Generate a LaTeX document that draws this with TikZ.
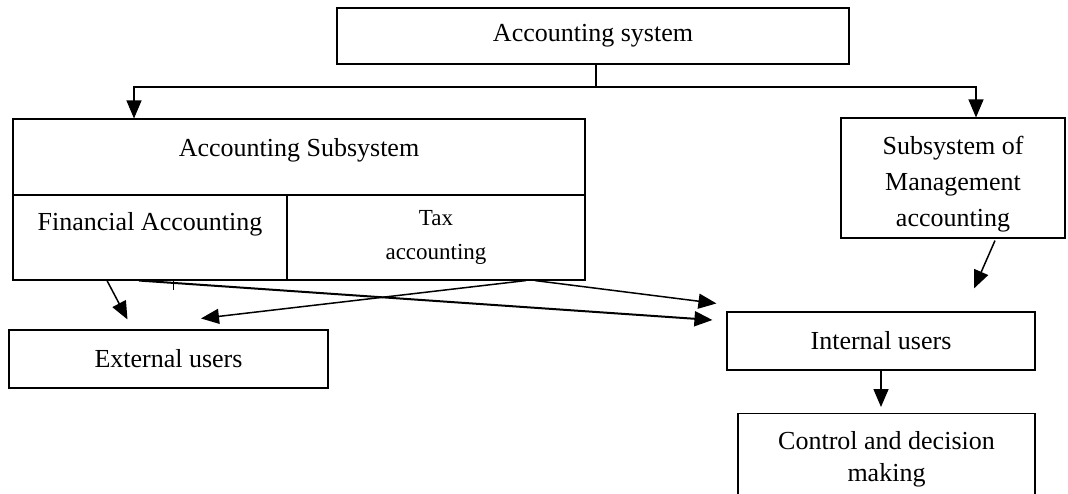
\documentclass[tikz,border=0pt]{standalone}
\usepackage{fontspec}
\setmainfont{Liberation Serif}
\usetikzlibrary{arrows.meta, calc}
\tikzset{
  box/.style={draw, line width=1.1pt, inner sep=0pt, align=center, font=\fontsize{26}{36}\selectfont},
  arr/.style={-{Triangle[length=18pt, width=15pt]}, line width=1.5pt}
}

\begin{document}
\begin{tikzpicture}[x=1pt, y=-1pt]

  \useasboundingbox (0,0) rectangle (1068,493);
  \clip (0,0) rectangle (1068,493);

  \node[box, minimum width=512, minimum height=56] (sys) at (593,36) {Accounting system};

  \node[box, minimum width=572, text height=37pt, text depth=39pt] (sub) at (299,157) {Accounting Subsystem};
  \node[box, minimum width=274, text height=35pt, text depth=50pt] (fin) at (150,237.5) {Financial Accounting};
  \node[box, minimum width=298, minimum height=85, font=\fontsize{23}{34}\selectfont] (tax) at (436,237.5) {Tax\\accounting};

  \node[box, minimum width=224, minimum height=120] (mgmt) at (953,178) {\rule{0pt}{30pt}Subsystem of\\Management\\accounting};

  \node[box, minimum width=319, minimum height=58] (ext) at (168.5,359) {External users};
  \node[box, minimum width=308, minimum height=58] (int) at (881,341) {Internal users};
  \node[box, minimum width=297, minimum height=92, anchor=north, font=\fontsize{26}{32}\selectfont] (ctrl) at (886.5,413) {Control and decision\\making};

  \coordinate (bus) at (596,87);
  \draw[line width=1.1pt] (sys.south -| bus) -- (bus);
  \draw[arr, line width=1.1pt] (bus) -| ([xshift=-165pt]sub.north);
  \draw[arr, line width=1.1pt] (bus) -| ([xshift=23pt]mgmt.north);

  \draw[arr] ([xshift=-43pt]fin.south) -- ([xshift=-41pt, yshift=10pt]ext.north);
  \draw[arr, line width=2pt] ([xshift=-11pt]fin.south) -- ([xshift=-14pt, yshift=21pt]int.west);
  \draw[line width=1pt] ([xshift=23pt]fin.south) -- ++(0,9);

  \draw[arr] ([xshift=90pt]tax.south) -- ([xshift=32.5pt, yshift=11pt]ext.north);
  \draw[arr] ([xshift=99pt]tax.south) -- ([xshift=-10pt, yshift=8pt]int.north west);

  \draw[arr] ([xshift=42pt, yshift=-2pt]mgmt.south) -- ([xshift=93pt, yshift=23pt]int.north);
  \draw[arr] (int.south) -- ([yshift=6pt]int.south |- ctrl.north);

\end{tikzpicture}
\end{document}
